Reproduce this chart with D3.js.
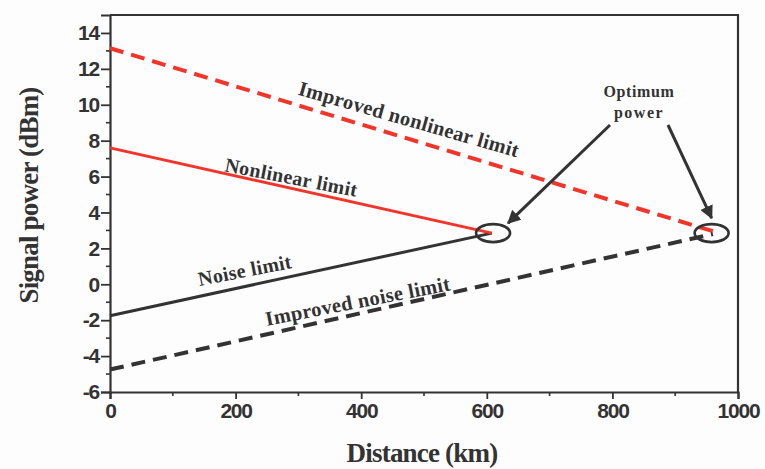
<!DOCTYPE html>
<html>
<head>
<meta charset="utf-8">
<script src="https://cdn.jsdelivr.net/npm/d3@7"></script>
<style>
  html, body { margin: 0; padding: 0; background: #fdfdfd; }
  svg { display: block; }
</style>
</head>
<body>
<svg id="chart" width="765" height="469"></svg>
<script>
// Signal power limits versus transmission distance
const xTicks = [0, 200, 400, 600, 800, 1000];
const yTicks = [-6, -4, -2, 0, 2, 4, 6, 8, 10, 12, 14];
const yMinorTicks = [-5, -3, -1, 1, 3, 5, 7, 9, 11, 13];
const xMinorTicks = [100, 300, 500, 700, 900];

// Each limit is a straight line: [distance km, power dBm]
const nonlinearLimit = [[0, 7.6], [608, 2.85]];
const noiseLimit = [[0, -1.75], [608, 2.85]];
const improvedNonlinearLimit = [[0, 13.15], [970, 2.85]];
const improvedNoiseLimit = [[0, -4.75], [960, 2.8]];

// Crossing points where the optimum power lies
const optimumPoints = [[610, 2.85], [958, 2.85]];

const RED = "#f2352a";
const DARK = "#333333";

const svg = d3.select("#chart");
const x = d3.scaleLinear().domain([0, 1000]).range([110, 738]);
const y = d3.scaleLinear().domain([-6, 15]).range([392, 15]);

const tickFont = "'Liberation Sans', Arial, sans-serif";
const serif = "'Liberation Serif', 'Times New Roman', serif";

// Frame (top and right)
svg.append("path")
  .attr("d", `M${x(0)},${y(15)}H${x(1000)}V${y(-6)}`)
  .attr("fill", "none").attr("stroke", DARK).attr("stroke-width", 2.2);

// Minor ticks
const gMinor = svg.append("g");
gMinor.selectAll("line.ym").data(yMinorTicks).join("line")
  .attr("x1", x(0) - 4).attr("x2", x(0))
  .attr("y1", d => y(d)).attr("y2", d => y(d))
  .attr("stroke", DARK).attr("stroke-width", 1.6);
gMinor.selectAll("line.xm").data(xMinorTicks).join("line")
  .attr("x1", d => x(d)).attr("x2", d => x(d))
  .attr("y1", y(-6)).attr("y2", y(-6) + 4)
  .attr("stroke", DARK).attr("stroke-width", 1.6);

// Axes
const xAxis = svg.append("g")
  .attr("transform", `translate(0,${y(-6)})`)
  .call(d3.axisBottom(x).tickValues(xTicks).tickSize(7).tickPadding(4)
    .tickFormat(d => String(d)));
const yAxis = svg.append("g")
  .attr("transform", `translate(${x(0)},0)`)
  .call(d3.axisLeft(y).tickValues(yTicks).tickSize(9).tickPadding(2)
    .tickFormat(d => String(d)));

[xAxis, yAxis].forEach(g => {
  g.select(".domain").attr("stroke", DARK).attr("stroke-width", 2.2);
  g.selectAll(".tick line").attr("stroke", DARK).attr("stroke-width", 1.8);
  g.selectAll(".tick text")
    .attr("fill", DARK)
    .style("font-family", tickFont)
    .style("font-weight", "bold")
    .style("font-size", "21px")
    .style("letter-spacing", "-1.2px");
});

// Limit lines
const line = d3.line().x(d => x(d[0])).y(d => y(d[1]));
svg.append("path").datum(improvedNonlinearLimit).attr("d", line)
  .attr("fill", "none").attr("stroke", RED).attr("stroke-width", 4)
  .attr("stroke-dasharray", "14,8");
svg.append("path").datum(improvedNoiseLimit).attr("d", line)
  .attr("fill", "none").attr("stroke", DARK).attr("stroke-width", 4)
  .attr("stroke-dasharray", "14,8");
svg.append("path").datum(noiseLimit).attr("d", line)
  .attr("fill", "none").attr("stroke", DARK).attr("stroke-width", 3);
svg.append("path").datum(nonlinearLimit).attr("d", line)
  .attr("fill", "none").attr("stroke", RED).attr("stroke-width", 3);

// Optimum power markers
svg.selectAll("ellipse.opt").data(optimumPoints).join("ellipse")
  .attr("cx", d => x(d[0])).attr("cy", d => y(d[1]))
  .attr("rx", 17).attr("ry", 9)
  .attr("fill", "none").attr("stroke", DARK).attr("stroke-width", 2.6);

// Arrows towards the optimum points
svg.append("defs").append("marker")
  .attr("id", "arrowhead").attr("viewBox", "0 0 10 10")
  .attr("refX", 9).attr("refY", 5)
  .attr("markerWidth", 4.5).attr("markerHeight", 4.5)
  .attr("orient", "auto")
  .append("path").attr("d", "M0,0L10,5L0,10Z").attr("fill", DARK);

const arrowStarts = [[610, 125], [668, 125]];
const arrowTips = optimumPoints.map((p, i) =>
  i === 0 ? [x(p[0]) + 15, y(p[1]) - 10] : [x(p[0]), y(p[1]) - 15]);
svg.selectAll("line.arrow").data(arrowStarts).join("line")
  .attr("x1", d => d[0]).attr("y1", d => d[1])
  .attr("x2", (d, i) => arrowTips[i][0]).attr("y2", (d, i) => arrowTips[i][1])
  .attr("stroke", DARK).attr("stroke-width", 3)
  .attr("marker-end", "url(#arrowhead)");

// Line labels
function label(text, cx, cy, angle, size) {
  svg.append("text")
    .attr("transform", `translate(${cx},${cy}) rotate(${angle})`)
    .attr("text-anchor", "middle")
    .attr("fill", DARK)
    .style("font-family", serif)
    .style("font-weight", "bold")
    .style("font-size", size + "px")
    .style("letter-spacing", "0.3px")
    .text(text);
}
label("Improved nonlinear limit", 407, 126, 16, 20.5);
label("Nonlinear limit", 290, 184, 11, 20);
label("Noise limit", 246, 277, -11, 20);
label("Improved noise limit", 359, 308, -11, 20.5);

svg.append("text").attr("x", 639).attr("y", 97)
  .attr("text-anchor", "middle").attr("fill", DARK)
  .style("font-family", serif).style("font-weight", "bold").style("font-size", "16px")
  .style("letter-spacing", "0.6px")
  .text("Optimum");
svg.append("text").attr("x", 639).attr("y", 118)
  .attr("text-anchor", "middle").attr("fill", DARK)
  .style("font-family", serif).style("font-weight", "bold").style("font-size", "16px")
  .style("letter-spacing", "1.5px")
  .text("power");

// Axis titles
svg.append("text")
  .attr("x", 422).attr("y", 462)
  .attr("text-anchor", "middle").attr("fill", DARK)
  .style("font-family", serif).style("font-weight", "bold").style("font-size", "27px")
  .style("letter-spacing", "-0.8px")
  .text("Distance (km)");
svg.append("text")
  .attr("transform", `translate(38,${(y(-6) + y(15)) / 2 - 8}) rotate(-90)`)
  .attr("text-anchor", "middle").attr("fill", DARK)
  .style("font-family", serif).style("font-weight", "bold").style("font-size", "27px")
  .style("letter-spacing", "-0.8px")
  .text("Signal power (dBm)");
</script>
</body>
</html>
